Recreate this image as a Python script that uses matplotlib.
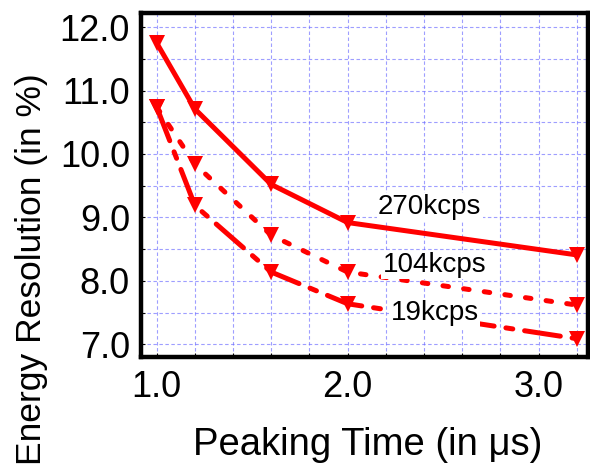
import numpy as np
import matplotlib
matplotlib.use('Agg')
import matplotlib.pyplot as plt
from matplotlib.ticker import MultipleLocator

plt.rcParams['font.family'] = ['Liberation Sans', 'DejaVu Sans']
plt.rcParams['lines.scale_dashes'] = False

# peaking time (us) and energy resolution (%) for each count rate
peaking = [1.0, 1.2, 1.6, 2.0, 3.2]
res_270 = [11.75, 10.71, 9.52, 8.92, 8.41]
res_104 = [10.74, 9.84, 8.72, 8.14, 7.62]
res_19 = [10.74, 9.19, 8.14, 7.64, 7.09]

labels = ['270kcps', '104kcps', '19kcps']
label_pos = [(2.43, 9.16), (2.455, 8.25), (2.455, 7.49)]

red = '#ff0000'

fig = plt.figure(figsize=(5.9, 4.68), dpi=100)
ax = fig.add_axes([0.239, 0.237, 0.758, 0.735])

kw = dict(color=red, lw=3.6, marker='v', ms=11, mew=0,
          solid_capstyle='round', dash_capstyle='round', zorder=3)
ax.plot(peaking, res_270, linestyle='-', **kw)
ax.plot(peaking, res_104, linestyle=(0, (4, 11)), **kw)
ax.plot(peaking, res_19, linestyle=(0, (26, 8.6, 5, 8.6)), **kw)

for txt, (tx, ty) in zip(labels, label_pos):
    ax.text(tx, ty, txt, fontsize=20, ha='center', va='center', zorder=4,
            bbox=dict(facecolor='white', edgecolor='none', pad=1))

ax.set_xlim(0.918, 3.26)
ax.set_ylim(6.8, 12.22)
ax.xaxis.set_major_locator(MultipleLocator(1.0))
ax.xaxis.set_minor_locator(MultipleLocator(0.2))
ax.yaxis.set_major_locator(MultipleLocator(1.0))
ax.yaxis.set_minor_locator(MultipleLocator(0.5))
ax.xaxis.set_major_formatter(plt.FormatStrFormatter('%.1f'))
ax.yaxis.set_major_formatter(plt.FormatStrFormatter('%.1f'))

ax.grid(True, which='both', color='#6a6aff', lw=0.8, linestyle=(0, (2.5, 1.8)), alpha=0.65)
ax.set_axisbelow(True)
ax.tick_params(which='both', direction='in', length=3, width=0.8, labelsize=26)
ax.tick_params(axis='x', pad=9)
ax.tick_params(axis='y', pad=8)

for sp in ax.spines.values():
    sp.set_linewidth(3.2)

ax.set_xlabel('Peaking Time (in \u03bcs)', fontsize=27.5, va='center')
ax.xaxis.set_label_coords(0.506, -0.255)
ax.set_ylabel('Energy Resolution (in %)', fontsize=25.5, va='center')
ax.yaxis.set_label_coords(-0.244, 0.255)

fig.savefig('out.png', dpi=100)
